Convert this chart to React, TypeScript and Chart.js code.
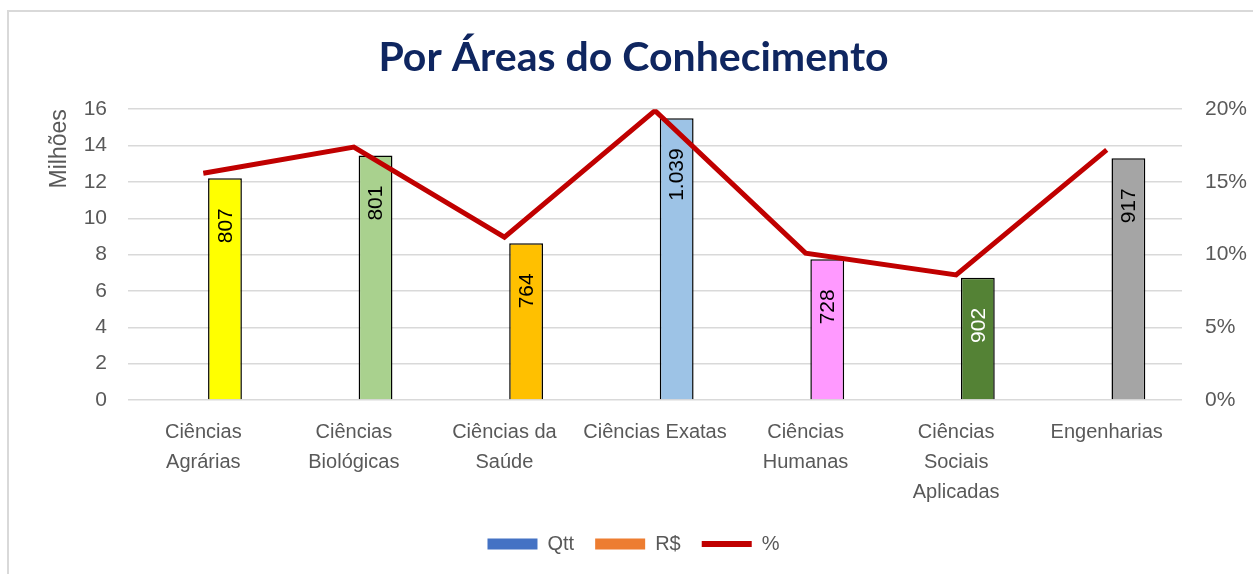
import React, { useEffect, useRef } from "react";
import { Chart, registerables } from "chart.js";

Chart.register(...registerables);

// ---- data ----
const categories: (string | string[])[] = [
  ["Ciências", "Agrárias"],
  ["Ciências", "Biológicas"],
  ["Ciências da", "Saúde"],
  "Ciências Exatas",
  ["Ciências", "Humanas"],
  ["Ciências", "Sociais", "Aplicadas"],
  "Engenharias",
];
const qtt = [807, 801, 764, 1039, 728, 902, 917];
const valoresMilhoes = [12.2, 13.45, 8.62, 15.5, 7.74, 6.72, 13.3];
const percentuais = [15.6, 17.4, 11.2, 19.9, 10.1, 8.6, 17.2];
const leftTicks = [0, 2, 4, 6, 8, 10, 12, 14, 16];
const rightTicks = [0, 5, 10, 15, 20];

// ---- styles ----
const barColors = ["#FFFF00", "#A9D18E", "#FFC000", "#9DC3E6", "#FF99FF", "#548235", "#A5A5A5"];
const labelColors = ["#000000", "#000000", "#000000", "#000000", "#000000", "#FFFFFF", "#000000"];
const FONT = "'Liberation Sans', Arial, sans-serif";
const GRAY = "#595959";
const QTT_BLUE = "#4472C4";

const fmtThousands = (n: number) => String(n).replace(/\B(?=(\d{3})+(?!\d))/g, ".");

const qttLabelsPlugin = {
  id: "qttLabels",
  afterDatasetsDraw(chart: any) {
    const meta = chart.getDatasetMeta(1);
    const ctx = chart.ctx;
    ctx.save();
    ctx.font = `21px ${FONT}`;
    ctx.textBaseline = "middle";
    ctx.textAlign = "right";
    meta.data.forEach((bar: any, i: number) => {
      ctx.save();
      ctx.translate(bar.x, bar.y + 30);
      ctx.rotate(-Math.PI / 2);
      ctx.fillStyle = labelColors[i];
      ctx.fillText(fmtThousands(qtt[i]), 0, 1);
      ctx.restore();
    });
    ctx.restore();
  },
};

export default function App() {
  const canvasRef = useRef<HTMLCanvasElement | null>(null);

  useEffect(() => {
    if (!canvasRef.current) return;
    const chart = new Chart(canvasRef.current, {
      type: "bar",
      data: {
        labels: categories,
        datasets: [
          {
            type: "bar",
            label: "Qtt",
            // unidades -> milhões (invisível nesta escala, como no original)
            data: qtt.map((q) => q / 1e6),
            backgroundColor: "rgba(68,114,196,0)",
            borderWidth: 0,
            categoryPercentage: 0.576,
            barPercentage: 0.78,
            yAxisID: "y",
            order: 1,
          },
          {
            type: "bar",
            label: "R$",
            data: valoresMilhoes,
            backgroundColor: barColors,
            borderColor: "#000000",
            borderWidth: 1.5,
            categoryPercentage: 0.576,
            barPercentage: 0.78,
            yAxisID: "y",
            order: 1,
          },
          {
            type: "line",
            label: "%",
            data: percentuais,
            borderColor: "#C00000",
            backgroundColor: "#C00000",
            borderWidth: 5,
            pointRadius: 0,
            tension: 0,
            yAxisID: "y1",
            order: 0,
          } as any,
        ],
      },
      options: {
        animation: false,
        responsive: true,
        maintainAspectRatio: false,
        layout: { padding: { left: 14, right: 0, top: 0, bottom: 10 } },
        plugins: {
          tooltip: { enabled: false },
          title: {
            display: true,
            text: "Por Áreas do Conhecimento",
            color: "#0F2660",
            font: { family: "Lato, sans-serif", size: 41, weight: "bold" },
            padding: { top: 33, bottom: 27 },
          },
          legend: {
            position: "bottom",
            labels: {
              color: GRAY,
              font: { family: FONT, size: 20 },
              usePointStyle: true,
              pointStyleWidth: 50,
              boxHeight: 11,
              padding: 21,
              generateLabels: () => [
                { text: "Qtt", fillStyle: QTT_BLUE, strokeStyle: QTT_BLUE, lineWidth: 0, pointStyle: "rect", fontColor: GRAY, datasetIndex: 0, hidden: false },
                { text: "R$", fillStyle: "#ED7D31", strokeStyle: "#ED7D31", lineWidth: 0, pointStyle: "rect", fontColor: GRAY, datasetIndex: 1, hidden: false },
                { text: "%", fillStyle: "#C00000", strokeStyle: "#C00000", lineWidth: 6, pointStyle: "line", fontColor: GRAY, datasetIndex: 2, hidden: false },
              ] as any,
            },
          },
        },
        scales: {
          x: {
            grid: { display: false, drawTicks: false },
            border: { display: false },
            ticks: {
              color: GRAY,
              font: { family: FONT, size: 20, lineHeight: 1.5 },
              maxRotation: 0,
              autoSkip: false,
              padding: 17,
            },
            afterFit: (axis: any) => {
              axis.height = 113;
            },
          },
          y: {
            position: "left",
            min: 0,
            max: 16,
            afterBuildTicks: (axis: any) => {
              axis.ticks = leftTicks.map((v) => ({ value: v }));
            },
            afterFit: (axis: any) => {
              axis.width = 114;
            },
            grid: { color: "#D9D9D9", lineWidth: 1.5, drawTicks: false },
            border: { display: false },
            ticks: { color: GRAY, font: { family: FONT, size: 21 }, padding: 21 },
            title: {
              display: true,
              text: "Milhões",
              align: "end",
              color: GRAY,
              font: { family: FONT, size: 23 },
              padding: { top: 32, bottom: 0 },
            },
          },
          y1: {
            position: "right",
            min: 0,
            max: 20,
            afterBuildTicks: (axis: any) => {
              axis.ticks = rightTicks.map((v) => ({ value: v }));
            },
            afterFit: (axis: any) => {
              axis.width = 71;
            },
            grid: { display: false, drawTicks: false },
            border: { display: false },
            ticks: {
              color: GRAY,
              font: { family: FONT, size: 21 },
              padding: 23,
              callback: (v: any) => `${v}%`,
            },
          },
        },
      },
      plugins: [qttLabelsPlugin],
    } as any);
    return () => chart.destroy();
  }, []);

  return (
    <div style={{ position: "fixed", left: 0, top: 0, width: 1253, height: 574, overflow: "hidden", background: "#fff" }}>
      <div
        style={{
          position: "absolute",
          left: 7,
          top: 10,
          width: 1400,
          height: 700,
          borderTop: "2px solid #D9D9D9",
          borderLeft: "2px solid #D9D9D9",
        }}
      />
      <div style={{ position: "absolute", left: 0, top: 0, width: 1253, height: 574 }}>
        <canvas ref={canvasRef} />
      </div>
    </div>
  );
}
